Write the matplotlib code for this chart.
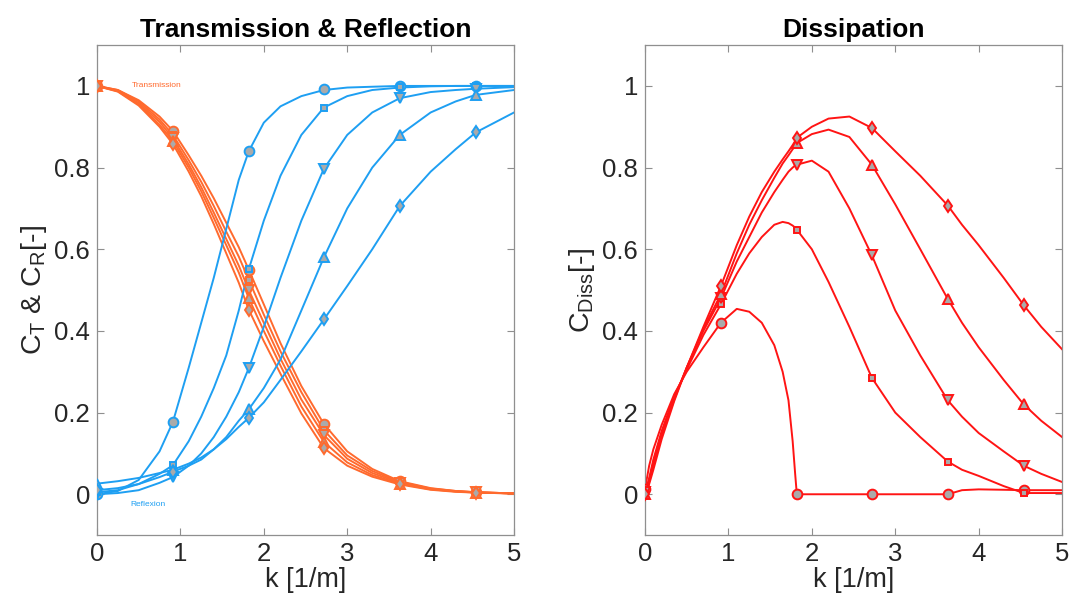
# Transmission / reflection / dissipation coefficients vs wave number
import matplotlib.pyplot as plt

# marker positions (wave numbers sampled)
k_mark = [0, 0.91, 1.82, 2.72, 3.63, 4.54]

# ---- left panel: dense curve readings ----
k_left = [0, 0.25, 0.5, 0.75, 0.91, 1.1, 1.25, 1.4, 1.55, 1.7, 1.82, 2.0,
          2.2, 2.45, 2.72, 3.0, 3.3, 3.63, 4.0, 4.3, 4.54, 5.0]

refl_circle = [0.0, 0.008, 0.035, 0.105, 0.177, 0.31, 0.42, 0.53, 0.65, 0.77, 0.84, 0.91,
               0.95, 0.975, 0.99, 0.996, 0.998, 1.0, 1.0, 1.0, 1.0, 1.0]
refl_square = [0.005, 0.01, 0.025, 0.05, 0.071, 0.13, 0.19, 0.26, 0.34, 0.45, 0.551, 0.67,
               0.78, 0.88, 0.947, 0.975, 0.99, 0.996, 0.999, 1.0, 1.0, 1.0]
refl_tridown = [0.0, 0.003, 0.01, 0.028, 0.042, 0.07, 0.10, 0.14, 0.19, 0.25, 0.309, 0.41,
                0.53, 0.67, 0.797, 0.88, 0.935, 0.97, 0.985, 0.99, 0.993, 0.997]
refl_triup = [0.026, 0.032, 0.04, 0.052, 0.06, 0.075, 0.09, 0.11, 0.14, 0.18, 0.208, 0.26,
              0.33, 0.45, 0.58, 0.70, 0.80, 0.88, 0.935, 0.962, 0.978, 0.99]
refl_diamond = [0.01, 0.015, 0.025, 0.042, 0.055, 0.07, 0.085, 0.11, 0.135, 0.165, 0.187, 0.225,
                0.28, 0.35, 0.428, 0.51, 0.60, 0.706, 0.79, 0.845, 0.886, 0.935]

trans_circle = [1.0, 0.99, 0.965, 0.925, 0.89, 0.83, 0.78, 0.725, 0.665, 0.605, 0.55, 0.465,
                0.37, 0.265, 0.172, 0.105, 0.062, 0.032, 0.015, 0.008, 0.005, 0.002]
trans_square = [1.0, 0.99, 0.962, 0.918, 0.88, 0.818, 0.765, 0.706, 0.643, 0.582, 0.525, 0.44,
                0.35, 0.25, 0.157, 0.095, 0.057, 0.030, 0.014, 0.008, 0.005, 0.002]
trans_tridown = [1.0, 0.988, 0.958, 0.912, 0.872, 0.808, 0.752, 0.69, 0.625, 0.56, 0.50, 0.42,
                 0.332, 0.232, 0.145, 0.087, 0.052, 0.028, 0.013, 0.007, 0.005, 0.002]
trans_triup = [1.0, 0.987, 0.955, 0.905, 0.865, 0.80, 0.742, 0.677, 0.61, 0.543, 0.48, 0.40,
               0.315, 0.215, 0.128, 0.078, 0.047, 0.026, 0.012, 0.007, 0.004, 0.002]
trans_diamond = [1.0, 0.986, 0.952, 0.90, 0.858, 0.79, 0.73, 0.662, 0.59, 0.518, 0.452, 0.375,
                 0.295, 0.198, 0.113, 0.07, 0.043, 0.024, 0.011, 0.006, 0.004, 0.002]

# ---- right panel: dense curve readings ----
k_right = [0, 0.05, 0.1, 0.2, 0.35, 0.5, 0.7, 0.91, 1.1, 1.25, 1.4, 1.55, 1.65, 1.72, 1.77,
           1.8, 1.82, 2.0, 2.2, 2.45, 2.72, 3.0, 3.3, 3.63, 3.8, 4.0, 4.3, 4.54, 4.75, 5.0]

diss_circle = [0.013, 0.07, 0.11, 0.17, 0.245, 0.30, 0.36, 0.42, 0.454, 0.447, 0.42, 0.365,
               0.30, 0.23, 0.13, 0.05, 0.0, 0.0, 0.0, 0.0, 0.0, 0.0, 0.0, 0.0, 0.01, 0.012,
               0.011, 0.01, 0.01, 0.01]
diss_square = [0.0, 0.04, 0.085, 0.155, 0.24, 0.305, 0.39, 0.465, 0.54, 0.59, 0.63, 0.66,
               0.667, 0.664, 0.658, 0.653, 0.648, 0.60, 0.52, 0.41, 0.285, 0.20, 0.14, 0.08,
               0.06, 0.045, 0.02, 0.003, 0.003, 0.003]
diss_tridown = [0.005, 0.035, 0.075, 0.15, 0.235, 0.31, 0.40, 0.48, 0.57, 0.63, 0.69, 0.74,
                0.77, 0.79, 0.80, 0.805, 0.807, 0.817, 0.79, 0.70, 0.585, 0.45, 0.34, 0.23,
                0.19, 0.15, 0.105, 0.07, 0.05, 0.03]
diss_triup = [0.0, 0.03, 0.07, 0.145, 0.232, 0.31, 0.405, 0.49, 0.59, 0.66, 0.72, 0.775,
              0.81, 0.83, 0.845, 0.852, 0.86, 0.882, 0.893, 0.875, 0.807, 0.71, 0.60, 0.478,
              0.42, 0.36, 0.28, 0.22, 0.18, 0.14]
diss_diamond = [0.0, 0.025, 0.06, 0.135, 0.228, 0.31, 0.41, 0.51, 0.61, 0.68, 0.74, 0.79,
                0.82, 0.84, 0.855, 0.865, 0.873, 0.90, 0.92, 0.925, 0.897, 0.84, 0.78, 0.707,
                0.66, 0.61, 0.53, 0.463, 0.41, 0.355]

# marker values
refl_mark = {
    'o': [0.0, 0.177, 0.84, 0.992, 1.0, 1.0],
    's': [0.005, 0.071, 0.551, 0.947, 0.997, 1.0],
    'v': [0.0, 0.042, 0.309, 0.797, 0.97, 0.993],
    '^': [0.026, 0.06, 0.208, 0.58, 0.88, 0.978],
    'd': [0.01, 0.055, 0.187, 0.428, 0.706, 0.886],
}
trans_mark = {
    'o': [1.0, 0.89, 0.55, 0.172, 0.032, 0.005],
    's': [1.0, 0.88, 0.525, 0.157, 0.030, 0.005],
    'v': [1.0, 0.872, 0.50, 0.145, 0.028, 0.005],
    '^': [1.0, 0.865, 0.48, 0.128, 0.026, 0.004],
    'd': [1.0, 0.858, 0.452, 0.113, 0.024, 0.004],
}
diss_mark = {
    'o': [0.013, 0.42, 0.0, 0.0, 0.0, 0.01],
    's': [0.0, 0.465, 0.648, 0.285, 0.08, 0.003],
    'v': [0.005, 0.48, 0.807, 0.585, 0.23, 0.07],
    '^': [0.0, 0.49, 0.86, 0.807, 0.478, 0.22],
    'd': [0.0, 0.51, 0.873, 0.897, 0.707, 0.463],
}

refl = {'o': refl_circle, 's': refl_square, 'v': refl_tridown, '^': refl_triup, 'd': refl_diamond}
trans = {'o': trans_circle, 's': trans_square, 'v': trans_tridown, '^': trans_triup, 'd': trans_diamond}
diss = {'o': diss_circle, 's': diss_square, 'v': diss_tridown, '^': diss_triup, 'd': diss_diamond}

msize = {'o': 7, 's': 5, 'v': 7.5, '^': 7.5, 'd': 6.5}

c_orange = '#ff6a2e'
c_blue = '#1e9ff2'
c_red = '#ff1414'
face = '#aaaaaa'
axcol = '#8f8f8f'
txtcol = '#262626'

plt.rcParams['font.family'] = ['Liberation Sans', 'DejaVu Sans']
plt.rcParams['mathtext.fontset'] = 'custom'
plt.rcParams['mathtext.rm'] = 'Liberation Sans'

fig = plt.figure(figsize=(10.75, 6.06), dpi=100)
ax1 = fig.add_axes([0.0902, 0.117, 0.388, 0.8086])
ax2 = fig.add_axes([0.600, 0.117, 0.388, 0.8086])


def draw(ax, k, curves, marks, color):
    for m in ['o', 's', 'v', '^', 'd']:
        ax.plot(k, curves[m], color=color, lw=1.4, zorder=2)
        ax.plot(k_mark, marks[m], ls='none', marker=m, ms=msize[m],
                mfc=face, mec=color, mew=1.4, zorder=3)


draw(ax1, k_left, trans, trans_mark, c_orange)
draw(ax1, k_left, refl, refl_mark, c_blue)
draw(ax2, k_right, diss, diss_mark, c_red)

ax1.text(0.42, 1.0, 'Transmission', color=c_orange, fontsize=6, va='center')
ax1.text(0.40, -0.025, 'Reflexion', color=c_blue, fontsize=6, va='center')

for ax in (ax1, ax2):
    ax.set_xlim(0, 5)
    ax.set_ylim(-0.1, 1.1)
    ax.set_xticks([0, 1, 2, 3, 4, 5])
    ax.set_yticks([0, 0.2, 0.4, 0.6, 0.8, 1])
    ax.set_yticklabels(['0', '0.2', '0.4', '0.6', '0.8', '1'])
    ax.tick_params(direction='in', length=5, width=0.8, colors=axcol, labelcolor=txtcol,
                   labelsize=18.5, top=True, right=True, pad=5)
    for s in ax.spines.values():
        s.set_color(axcol)
        s.set_linewidth(0.9)
    ax.set_xlabel('k [1/m]', fontsize=19.5, color=txtcol, labelpad=1)

ax1.set_ylabel('C$_\\mathrm{T}$ & C$_\\mathrm{R}$[-]', fontsize=20.5, color=txtcol, labelpad=4)
ax2.set_ylabel('C$_\\mathrm{Diss}$[-]', fontsize=20.5, color=txtcol, labelpad=4)
ax1.set_title('Transmission & Reflection', fontsize=19, fontweight='bold', pad=6)
ax2.set_title('Dissipation', fontsize=19, fontweight='bold', pad=6)

fig.savefig('out.png', dpi=100)
